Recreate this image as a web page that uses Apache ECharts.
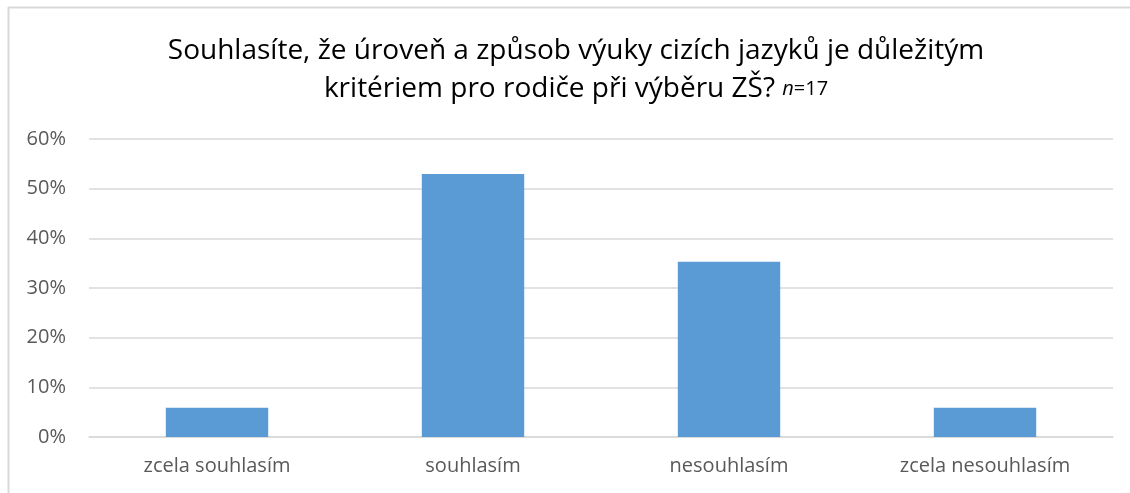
<!DOCTYPE html>
<html><head><meta charset="utf-8">
<script src="https://cdn.jsdelivr.net/npm/echarts@6/dist/echarts.min.js"></script>
<style>html,body{margin:0;padding:0;background:#fff}#c{width:1130px;height:493px}</style>
</head><body><div id="c"></div>
<script>
const categories = ['zcela souhlasím', 'souhlasím', 'nesouhlasím', 'zcela nesouhlasím'];
const values = [0.0588, 0.5294, 0.3529, 0.0588];
const yTicks = { min: 0, max: 0.6, interval: 0.1 };
const titleLine1 = 'Souhlasíte, že úroveň a způsob výuky cizích jazyků je důležitým';
const titleLine2 = 'kritériem pro rodiče při výběru ZŠ? ';

const chart = echarts.init(document.getElementById('c'), null, {renderer: 'canvas'});
const font = '"Open Sans", "Noto Sans", sans-serif';
chart.setOption({
  animation: false,
  title: {
    left: 571, top: 27, textAlign: 'center',
    text: '{a|' + titleLine1 + '}\n{a|' + titleLine2 + '}{i|n}{s|=17}',
    textStyle: {
      fontWeight: 'normal',
      rich: {
        a: {fontFamily: font, fontSize: 28, fontWeight: 'normal', color: '#000', lineHeight: 38},
        i: {fontFamily: font, fontSize: 20, fontStyle: 'italic', fontWeight: 'normal', color: '#000', lineHeight: 38},
        s: {fontFamily: font, fontSize: 20, fontWeight: 'normal', color: '#000', lineHeight: 38}
      }
    }
  },
  graphic: [
    {type: 'line', shape: {x1: 8, y1: 7.5, x2: 1130, y2: 7.5}, style: {stroke: '#d9d9d9', lineWidth: 2}},
    {type: 'line', shape: {x1: 8.5, y1: 7, x2: 8.5, y2: 493}, style: {stroke: '#d9d9d9', lineWidth: 2}}
  ],
  grid: {left: 89, right: 17, top: 139, bottom: 56},
  xAxis: {
    type: 'category', data: categories,
    axisLine: {show: true, lineStyle: {color: '#d9d9d9', width: 1.5}},
    axisTick: {show: false},
    axisLabel: {color: '#595959', fontFamily: font, fontSize: 20, margin: 19}
  },
  yAxis: {
    type: 'value', min: yTicks.min, max: yTicks.max, interval: yTicks.interval,
    axisLine: {show: false}, axisTick: {show: false},
    splitLine: {lineStyle: {color: '#d9d9d9', width: 1.5}},
    axisLabel: {color: '#595959', fontFamily: font, fontSize: 20, margin: 23,
      formatter: v => Math.round(v * 100) + '%'}
  },
  series: [{
    type: 'bar', data: values, barWidth: '40%',
    itemStyle: {color: '#5b9bd5'}
  }]
});
</script></body></html>
